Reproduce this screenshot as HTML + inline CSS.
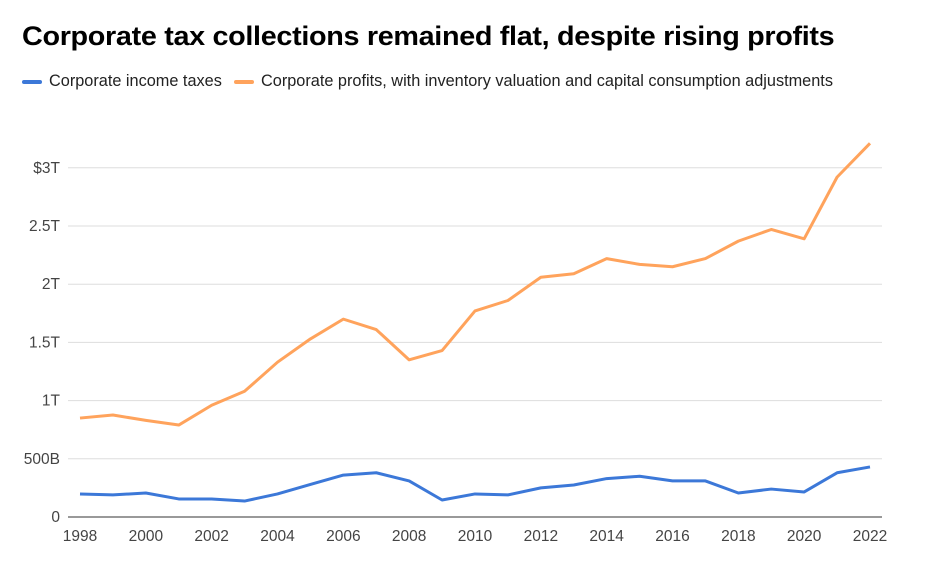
<!DOCTYPE html>
<html><head><meta charset="utf-8"><style>
body{margin:0;background:#fff;font-family:"Liberation Sans",Arial,sans-serif;}
#wrap{position:relative;width:934px;height:568px;overflow:hidden;}
h1{position:absolute;left:22px;top:21px;margin:0;font-size:27px;font-weight:bold;color:#000;letter-spacing:-0.3px;transform:scaleX(1.065);transform-origin:left top;white-space:nowrap;}
.legend{position:absolute;top:72px;font-size:16.3px;color:#222;display:flex;align-items:center;white-space:nowrap;}
.sw{display:inline-block;width:20px;height:4px;border-radius:2px;margin-right:7px;}
</style></head><body>
<div id="wrap">
<h1>Corporate tax collections remained flat, despite rising profits</h1>
<div class="legend" style="left:22px"><span class="sw" style="background:#3c78d8"></span>Corporate income taxes</div>
<div class="legend" style="left:234px"><span class="sw" style="background:#ffa35c"></span>Corporate profits, with inventory valuation and capital consumption adjustments</div>
<svg id="svg" width="934" height="568" style="position:absolute;left:0;top:0"></svg>
</div>
<script>
const years=[1998,1999,2000,2001,2002,2003,2004,2005,2006,2007,2008,2009,2010,2011,2012,2013,2014,2015,2016,2017,2018,2019,2020,2021,2022];
const profits=[0.85,0.876,0.83,0.79,0.96,1.08,1.33,1.53,1.70,1.61,1.35,1.43,1.77,1.86,2.06,2.09,2.22,2.17,2.15,2.22,2.37,2.47,2.39,2.92,3.21];
const taxes=[0.198,0.19,0.206,0.155,0.155,0.137,0.198,0.28,0.36,0.38,0.31,0.146,0.198,0.19,0.25,0.275,0.33,0.35,0.31,0.31,0.206,0.24,0.215,0.38,0.43];
const yTicks=[0,0.5,1,1.5,2,2.5,3];
const yTickLabels=["0","500B","1T","1.5T","2T","2.5T","$3T"];
const xTickYears=[1998,2000,2002,2004,2006,2008,2010,2012,2014,2016,2018,2020,2022];
const NS="http://www.w3.org/2000/svg";
const svg=document.getElementById('svg');
const x=v=>80+(v-1998)*(870-80)/24;
const y=v=>517-v*116.4;
function mk(t,a){const e=document.createElementNS(NS,t);for(const k in a)e.setAttribute(k,a[k]);svg.appendChild(e);return e;}
yTicks.forEach((t,i)=>{
  const g=mk('line',{x1:68,x2:882,y1:y(t),y2:y(t),stroke:t===0?'#333':'#ddd','stroke-width':1});
  
  
  const l=mk('text',{x:60,y:y(t)+5,'text-anchor':'end','font-size':15.5,fill:'#444','font-family':'Liberation Sans, sans-serif'});
  l.textContent=yTickLabels[i];
  
  
});
xTickYears.forEach(yr=>{
  const l=mk('text',{x:x(yr),y:541,'text-anchor':'middle','font-size':15.5,fill:'#444','font-family':'Liberation Sans, sans-serif'});
  l.textContent=yr;
  
  
});
function line(vals,color,name){
  const p=mk('polyline',{points:vals.map((v,i)=>x(years[i])+','+y(v)).join(' '),fill:'none',stroke:color,'stroke-width':3,'stroke-linejoin':'round'});
  
  
}
line(profits,'#ffa35c','profits-line');
line(taxes,'#3c78d8','taxes-line');
</script>
</body></html>
